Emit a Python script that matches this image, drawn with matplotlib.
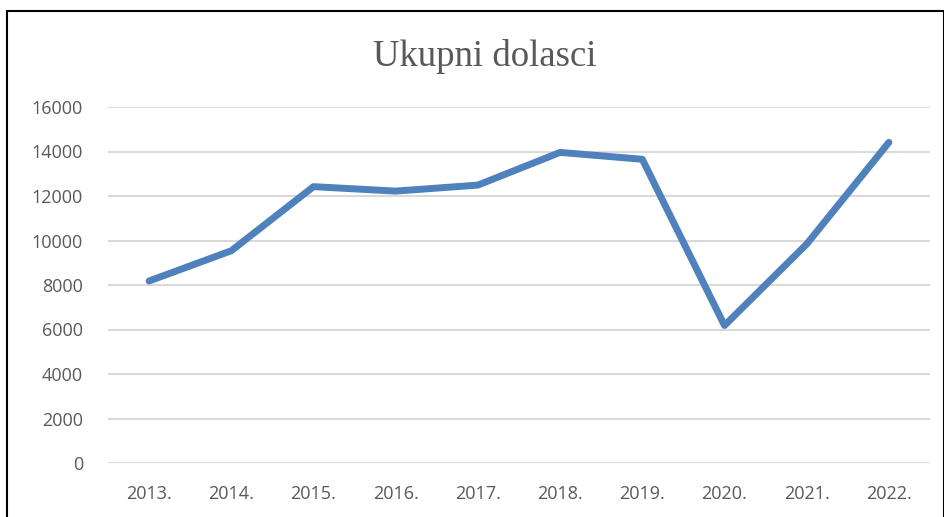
import matplotlib
matplotlib.use("Agg")
import matplotlib.pyplot as plt
from matplotlib.patches import Rectangle
from matplotlib import font_manager

years = ["2013.", "2014.", "2015.", "2016.", "2017.", "2018.", "2019.", "2020.", "2021.", "2022."]
arrivals = [8180, 9540, 12420, 12220, 12490, 13960, 13650, 6180, 9840, 14410]
yticks = [0, 2000, 4000, 6000, 8000, 10000, 12000, 14000, 16000]
title = "Ukupni dolasci"

avail = {f.name for f in font_manager.fontManager.ttflist}
label_font = "Liberation Sans Narrow" if "Liberation Sans Narrow" in avail else "Open Sans"

fig = plt.figure(figsize=(9.45, 5.17), dpi=100)
ax = fig.add_axes([108/945, 1-463/517, (930-108)/945, (463-107)/517])

x = list(range(len(years)))
ax.plot(x, arrivals, color="#4F81BD", lw=5, solid_joinstyle="round", solid_capstyle="round", zorder=3)

ax.set_xlim(-0.5, len(years)-0.5)
ax.set_ylim(0, 16000)
ax.set_yticks(yticks)
ax.set_yticklabels([str(v) for v in yticks])
ax.set_xticks(x)
ax.set_xticklabels(years)
ax.grid(axis="y", color="#D9D9D9", lw=1.5)
ax.set_axisbelow(True)
for s in ax.spines.values():
    s.set_visible(False)
ax.tick_params(axis="both", length=0, colors="#595959", labelsize=13)
ax.tick_params(axis="y", pad=18)
ax.tick_params(axis="x", pad=16)
for lab in ax.get_xticklabels() + ax.get_yticklabels():
    lab.set_family(label_font)

fig.text(485/945, 1-56/517, title, ha="center", va="center", fontsize=26.5,
         family="Liberation Serif", color="#595959")

# outer frame
fig.patches.append(Rectangle((7/945, -0.05), (944-7)/945, 1-11/517+0.05, transform=fig.transFigure,
                             fill=False, edgecolor="black", lw=1.5, zorder=10))

fig.savefig("out.png", dpi=100)
